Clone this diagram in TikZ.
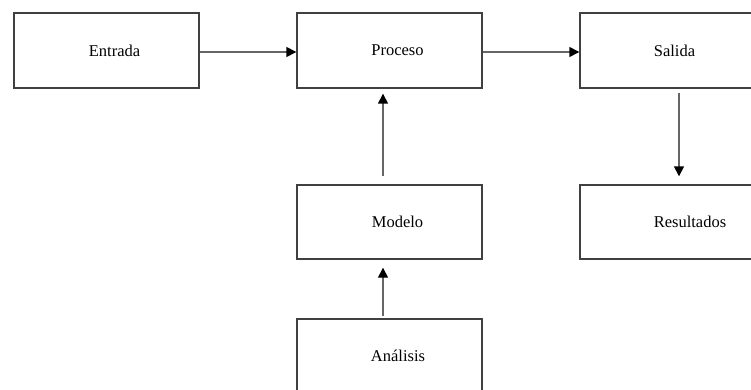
\documentclass[tikz,border=0pt]{standalone}
\usepackage{fontspec}
\setmainfont{Liberation Serif}
\usetikzlibrary{arrows.meta}
\begin{document}
\begin{tikzpicture}[x=1pt,y=-1pt,
  box/.style={draw=black!75,line width=1.4pt,rectangle,inner sep=0pt,
    font=\fontsize{16.5}{20}\selectfont},
  arr/.style={draw=black!60,line width=1.4pt,-{Triangle[length=10pt,width=10pt,color=black]}}]
\useasboundingbox (0,0) rectangle (751,390);
\begin{scope}
\clip (0,0) rectangle (751,390);
\node[box,minimum width=185pt,minimum height=75pt] (entrada) at (106.5,50.5) {\hspace*{16pt}Entrada};
\node[box,minimum width=185pt,minimum height=75pt] (proceso) at (389.5,50.5) {\hspace*{16pt}Proceso};
\node[box,minimum width=198pt,minimum height=75pt] (salida) at (679,50.5) {Salida\hspace*{9pt}};
\node[box,minimum width=185pt,minimum height=74pt] (modelo) at (389.5,222) {\hspace*{16pt}Modelo};
\node[box,minimum width=198pt,minimum height=74pt] (resultados) at (679,222) {\hspace*{22pt}Resultados};
\node[box,minimum width=185pt,minimum height=100pt] (analisis) at (389.5,369) {};
\node[font=\fontsize{16.5}{20}\selectfont] (analisistxt) at (398,356) {Análisis};
\end{scope}
\draw[arr] ([yshift=-1.5pt]entrada.east) -- ([yshift=-1.5pt]proceso.west);
\draw[arr] ([yshift=-1.5pt]proceso.east) -- ([yshift=-1.5pt]salida.west);
\draw[arr,shorten <=4pt,shorten >=8pt] (salida.south) -- (resultados.north);
\draw[arr,shorten <=8pt,shorten >=5pt] ([xshift=-6.5pt]modelo.north) -- ([xshift=-6.5pt]proceso.south);
\draw[arr,shorten <=2pt,shorten >=8pt] ([xshift=-6.5pt]analisis.north) -- ([xshift=-6.5pt]modelo.south);
\end{tikzpicture}
\end{document}
